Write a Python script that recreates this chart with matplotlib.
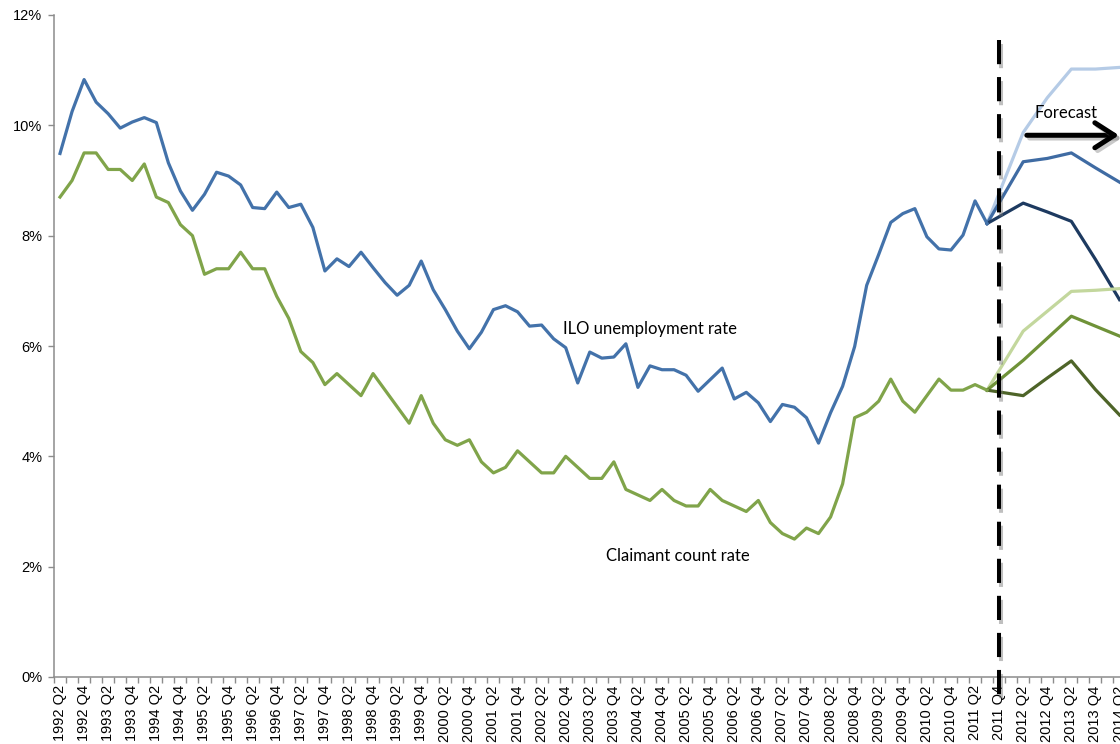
import numpy as np
import matplotlib
matplotlib.use('Agg')
import matplotlib.pyplot as plt
import matplotlib.patheffects as pe
from matplotlib.ticker import FuncFormatter
from matplotlib.transforms import blended_transform_factory

# Quarter labels, 1992 Q2 to 2014 Q2
quarters = []
year, q = 1992, 2
for _ in range(89):
    quarters.append(f'{year} Q{q}')
    q += 1
    if q > 4:
        q, year = 1, year + 1

# Outturn, 1992 Q2 - 2011 Q3 (%)
ilo_rate = [9.49, 10.25, 10.83, 10.42, 10.21, 9.95, 10.06, 10.14, 10.05, 9.32,
            8.81, 8.46, 8.75, 9.15, 9.08, 8.92, 8.51, 8.49, 8.79, 8.51,
            8.57, 8.15, 7.36, 7.58, 7.44, 7.70, 7.42, 7.15, 6.92, 7.10,
            7.54, 7.02, 6.66, 6.27, 5.95, 6.25, 6.66, 6.73, 6.62, 6.36,
            6.38, 6.13, 5.97, 5.33, 5.89, 5.78, 5.80, 6.04, 5.25, 5.64,
            5.57, 5.57, 5.47, 5.18, 5.39, 5.60, 5.04, 5.16, 4.97, 4.63,
            4.94, 4.89, 4.70, 4.24, 4.79, 5.27, 5.99, 7.10, 7.66, 8.24,
            8.40, 8.49, 7.98, 7.76, 7.74, 8.01, 8.63, 8.22]
claimant_rate = [8.7, 9.0, 9.5, 9.5, 9.2, 9.2, 9.0, 9.3, 8.7, 8.6,
                 8.2, 8.0, 7.3, 7.4, 7.4, 7.7, 7.4, 7.4, 6.9, 6.5,
                 5.9, 5.7, 5.3, 5.5, 5.3, 5.1, 5.5, 5.2, 4.9, 4.6,
                 5.1, 4.6, 4.3, 4.2, 4.3, 3.9, 3.7, 3.8, 4.1, 3.9,
                 3.7, 3.7, 4.0, 3.8, 3.6, 3.6, 3.9, 3.4, 3.3, 3.2,
                 3.4, 3.2, 3.1, 3.1, 3.4, 3.2, 3.1, 3.0, 3.2, 2.8,
                 2.6, 2.5, 2.7, 2.6, 2.9, 3.5, 4.7, 4.8, 5.0, 5.4,
                 5.0, 4.8, 5.1, 5.4, 5.2, 5.2, 5.3, 5.2]

# Forecast scenarios (high / central / low)
forecast_quarters = ['2011 Q3', '2012 Q2', '2012 Q4', '2013 Q2', '2013 Q4', '2014 Q2']
ilo_high = [8.22, 9.87, 10.50, 11.02, 11.02, 11.05]
ilo_central = [8.22, 9.34, 9.40, 9.50, 9.23, 8.97]
ilo_low = [8.22, 8.59, 8.43, 8.26, 7.57, 6.84]
claimant_high = [5.2, 6.27, 6.63, 6.99, 7.01, 7.04]
claimant_central = [5.2, 5.74, 6.14, 6.54, 6.36, 6.18]
claimant_low = [5.2, 5.10, 5.42, 5.73, 5.21, 4.75]

forecast_start = '2011 Q4'

BLUE = '#4372aa'
GREEN = '#80a44a'
AXIS_GREY = '#8c8c8c'
LABEL_FONT = ['Lato', 'DejaVu Sans']

fig = plt.figure(figsize=(11.2, 7.44), dpi=100)
ax = fig.add_axes([54 / 1120, 67 / 744, 1066 / 1120, 662 / 744])

x_hist = np.arange(len(ilo_rate))
x_fc = [quarters.index(lbl) for lbl in forecast_quarters]

lw = 2.3
ax.plot(x_fc, ilo_high, color='#b5cbe6', lw=lw, zorder=2)
ax.plot(x_fc, ilo_central, color='#3f6ba3', lw=lw, zorder=2)
ax.plot(x_fc, ilo_low, color='#1d3a60', lw=lw, zorder=2)
ax.plot(x_fc, claimant_high, color='#c3d79d', lw=lw, zorder=2)
ax.plot(x_fc, claimant_central, color='#6f9238', lw=lw, zorder=2)
ax.plot(x_fc, claimant_low, color='#4e6428', lw=lw, zorder=2)

ax.plot(x_hist, ilo_rate, color=BLUE, lw=lw, zorder=3)
ax.plot(x_hist, claimant_rate, color=GREEN, lw=lw, zorder=3)

# axes scales and ticks (limits set last so the tick positions don't widen them)
ax.set_yticks(np.arange(0, 13, 2))
ax.yaxis.set_major_formatter(FuncFormatter(lambda v, _: f'{v:.0f}%'))
ax.set_xticks(np.arange(0, len(quarters), 2))
ax.set_xticklabels(quarters[::2], rotation=90)
ax.set_xticks(np.arange(-0.5, len(quarters) + 1, 1), minor=True)
ax.set_xlim(-0.5, 88.04)
ax.set_ylim(0, 12)

ax.tick_params(axis='x', which='major', length=0, pad=6, labelsize=10.5)
ax.tick_params(axis='x', which='minor', length=4.5, width=1, color=AXIS_GREY, direction='out')
ax.tick_params(axis='y', which='major', length=4.5, width=1, color=AXIS_GREY, direction='out',
               pad=4, labelsize=10.5)
for lbl in ax.get_xticklabels() + ax.get_yticklabels():
    lbl.set_family(['Liberation Sans', 'DejaVu Sans'])

for side in ('top', 'right'):
    ax.spines[side].set_visible(False)
for side in ('left', 'bottom'):
    ax.spines[side].set_color(AXIS_GREY)
    ax.spines[side].set_linewidth(1.1)

# vertical divider at the start of the forecast period
trans = blended_transform_factory(ax.transData, ax.transAxes)
x_div = quarters.index(forecast_start)
ax.plot([x_div, x_div], [0.962, -0.035], transform=trans, color='black', lw=2.9,
        dashes=(6.0, 3.2), clip_on=False, zorder=6,
        path_effects=[pe.SimpleLineShadow(offset=(1, -3), shadow_color='0.45', alpha=0.45),
                      pe.Normal()])

# series labels
ax.text(41.8, 6.31, 'ILO unemployment rate', fontsize=12, family=LABEL_FONT,
        va='center', ha='left')
ax.text(45.35, 2.19, 'Claimant count rate', fontsize=12, family=LABEL_FONT,
        va='center', ha='left')

# forecast arrow
ax.text(80.9, 10.22, 'Forecast', fontsize=12, family=LABEL_FONT, va='center', ha='left')
ax.annotate('', xy=(87.95, 9.82), xytext=(80.3, 9.82),
            arrowprops=dict(arrowstyle='->, head_length=0.7, head_width=0.45',
                            lw=3.6, color='black', mutation_scale=20,
                            shrinkA=0, shrinkB=0,
                            path_effects=[pe.SimpleLineShadow(offset=(2, -2), shadow_color='0.4',
                                                              alpha=0.35),
                                          pe.Normal()]),
            annotation_clip=False, zorder=7)

fig.savefig('out.png', dpi=100)
